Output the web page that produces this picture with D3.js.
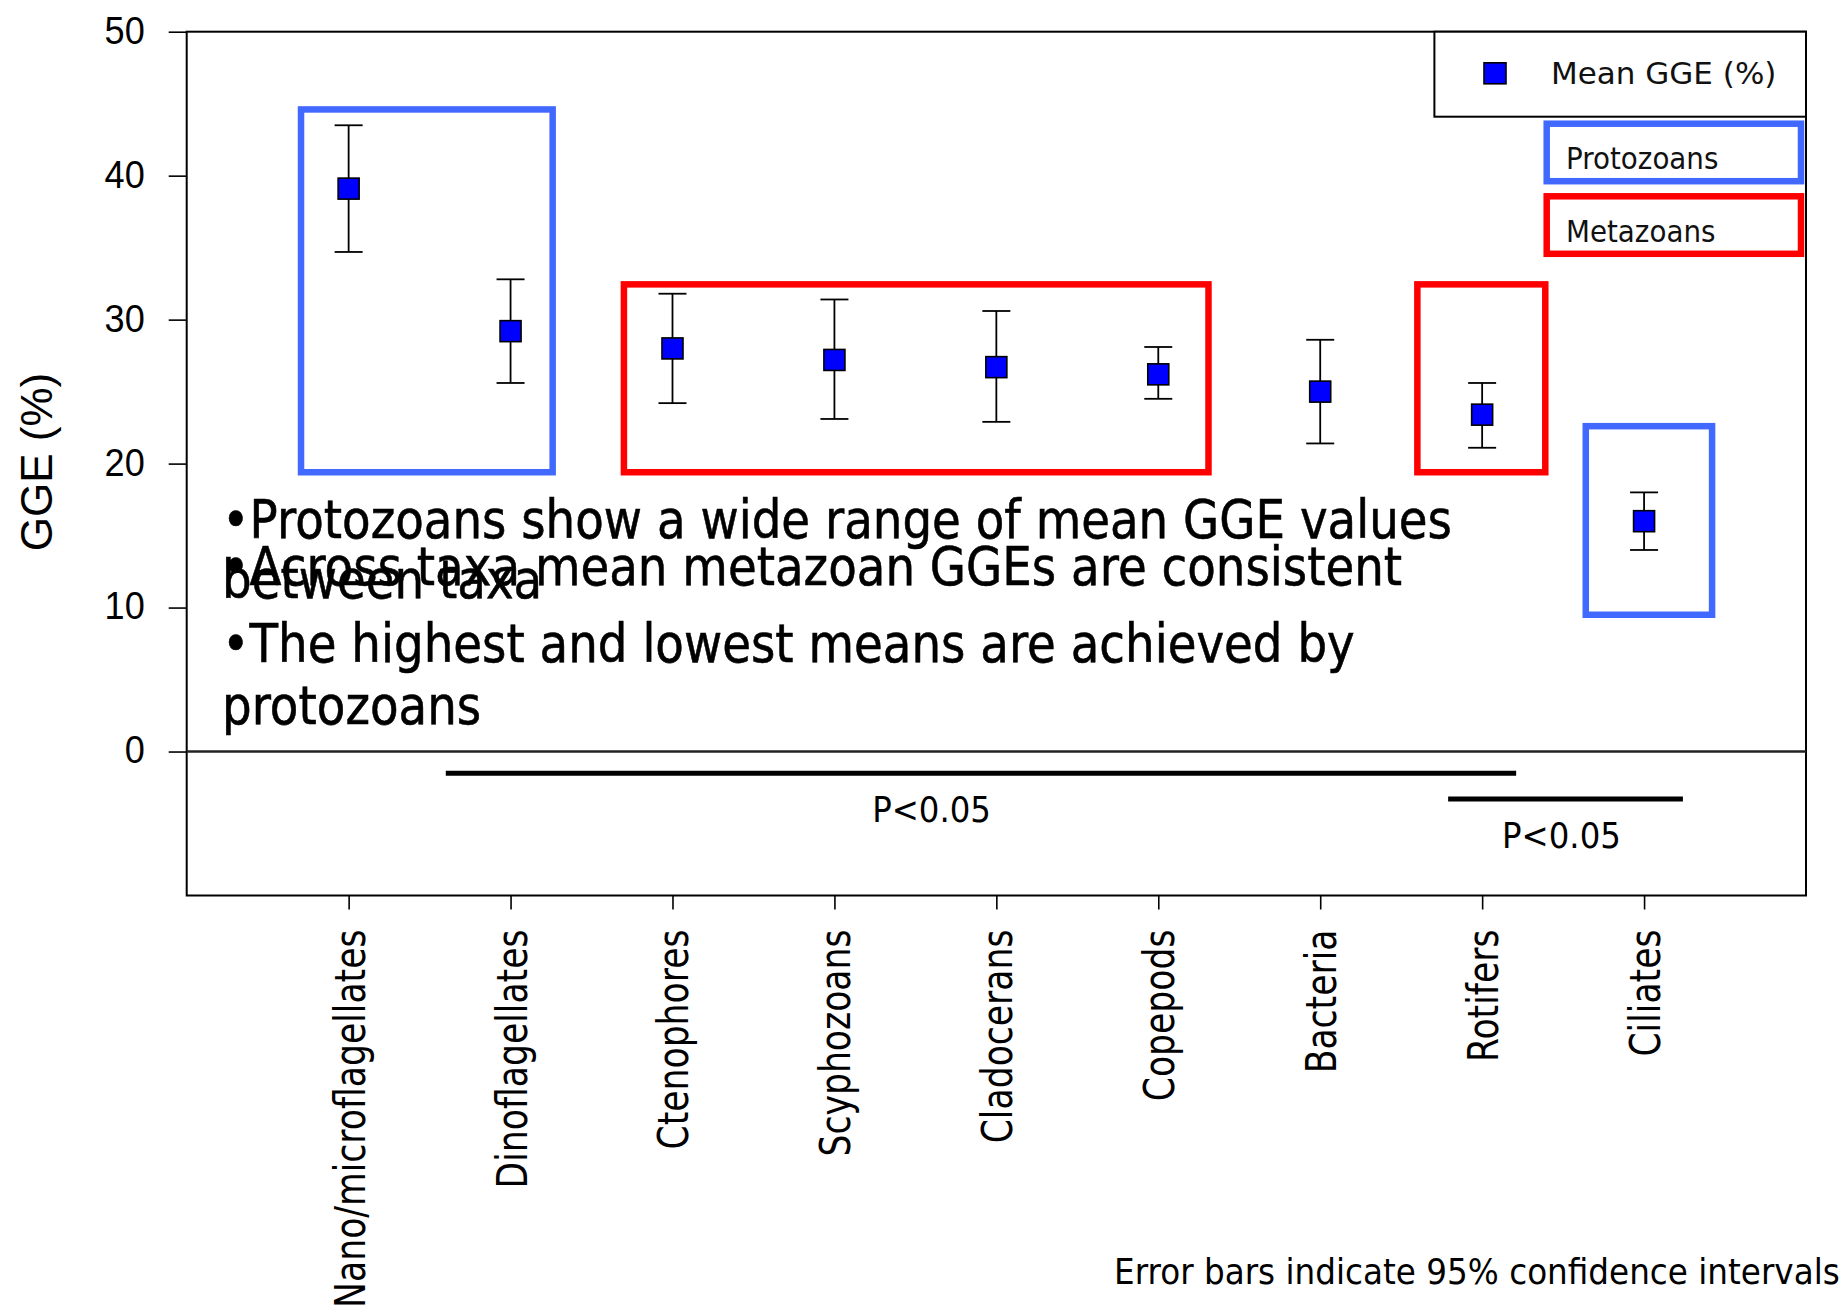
<!DOCTYPE html>
<html>
<head>
<meta charset="utf-8">
<script src="https://cdn.jsdelivr.net/npm/d3@7"></script>
<style>
  html, body { margin: 0; padding: 0; background: #fff; }
  svg { display: block; }
</style>
</head>
<body>
<svg id="chart" width="1843" height="1312"></svg>
<script>
// Taxa and their mean gross growth efficiency (%) with 95% confidence limits
const categories = ["Nano/microflagellates", "Dinoflagellates", "Ctenophores", "Scyphozoans",
                    "Cladocerans", "Copepods", "Bacteria", "Rotifers", "Ciliates"];
const meanGGE  = [39.1, 29.2, 28.0, 27.2, 26.7, 26.2, 25.0, 23.4, 16.0];
const ciLower  = [34.7, 25.6, 24.2, 23.1, 22.9, 24.5, 21.4, 21.1, 14.0];
const ciUpper  = [43.5, 32.8, 31.8, 31.4, 30.6, 28.1, 28.6, 25.6, 18.0];
const yTicks   = [0, 10, 20, 30, 40, 50];

// Grouping outlines: first/last taxon index, value range, group type
const groupFirst = [0, 2, 7, 8];
const groupLast  = [1, 5, 7, 8];
const groupLow   = [19.4, 19.4, 19.4, 9.5];
const groupHigh  = [44.6, 32.45, 32.45, 22.6];
const groupType  = ["Protozoans", "Metazoans", "Metazoans", "Protozoans"];

// Significance bars (taxon-index span, value level) and their labels
const sigFrom       = [0.6, 6.79];
const sigTo         = [7.21, 8.24];
const sigLevel      = [-1.5, -3.3];
const sigLabels     = ["P<0.05", "P<0.05"];
const sigLabelAt    = [3.6, 7.49];
const sigLabelLevel = [-4.9, -6.7];

const notes = [
  "•Protozoans show a wide range of mean GGE values",
  "between taxa",
  "•Across taxa mean metazoan GGEs are consistent",
  "•The highest and lowest means are achieved by",
  "protozoans"
];
const footnote = "Error bars indicate 95% confidence intervals";
const legendSeries = "Mean GGE (%)";
const groupTypes = ["Protozoans", "Metazoans"];

const groupColor = { Protozoans: "#4169ff", Metazoans: "#ff0000" };

const svg = d3.select("#chart");
svg.append("rect").attr("width", 1843).attr("height", 1312).attr("fill", "#fff");

const plotLeft = 186.7, plotRight = 1806, plotTop = 31.7, plotBottom = 895.5;

const x = d3.scalePoint().domain(categories).range([plotLeft, plotRight]).padding(1);
const y = d3.scaleLinear().domain([-10, 50]).range([plotBottom, plotTop]);
const xAt = i => x(categories[0]) + i * x.step();

const sans = "'DejaVu Sans', Verdana, sans-serif";
const arial = "'Liberation Sans', Arial, sans-serif";

// Plot frame
svg.append("rect")
  .attr("x", plotLeft).attr("y", plotTop)
  .attr("width", plotRight - plotLeft).attr("height", plotBottom - plotTop)
  .attr("fill", "none").attr("stroke", "#000").attr("stroke-width", 2);

// Zero reference line
svg.append("line")
  .attr("x1", plotLeft).attr("x2", plotRight)
  .attr("y1", y(0)).attr("y2", y(0))
  .attr("stroke", "#222").attr("stroke-width", 2.5);

// Y axis
const yAxis = svg.append("g")
  .attr("transform", `translate(${plotLeft},0)`)
  .call(d3.axisLeft(y).tickValues(yTicks).tickSize(18).tickSizeOuter(0));
yAxis.select(".domain").remove();
yAxis.selectAll(".tick line").attr("stroke", "#000").attr("stroke-width", 1.6);
yAxis.selectAll(".tick text")
  .attr("font-family", arial).attr("font-size", 38).attr("fill", "#000")
  .attr("x", -42 / 0.95).attr("dy", "0.30em")
  .attr("transform", "scale(0.95,1)");

// Y axis title
svg.append("text")
  .attr("transform", "translate(52,462) rotate(-90)")
  .attr("text-anchor", "middle")
  .attr("font-family", arial).attr("font-size", 44).attr("fill", "#000")
  .text("GGE (%)");

// X axis with vertical taxon names
const xAxis = svg.append("g")
  .attr("transform", `translate(0,${plotBottom})`)
  .call(d3.axisBottom(x).tickSize(14).tickSizeOuter(0));
xAxis.select(".domain").remove();
xAxis.selectAll(".tick line").attr("stroke", "#000").attr("stroke-width", 1.6);
xAxis.selectAll(".tick text")
  .attr("font-family", sans).attr("font-size", 43).attr("fill", "#000")
  .attr("x", 0).attr("y", 0).attr("dy", "0.36em")
  .attr("text-anchor", "end")
  .attr("transform", "translate(0,34) rotate(-90) scale(0.805,1)");

// Group outlines
const padL = [0.294, 0.30, 0.40, 0.36];
const padR = [0.26, 0.31, 0.39, 0.42];
svg.append("g").selectAll("rect")
  .data(groupFirst.map((f, i) => i))
  .join("rect")
  .attr("x", i => xAt(groupFirst[i] - padL[i]))
  .attr("y", i => y(groupHigh[i]))
  .attr("width", i => xAt(groupLast[i] + padR[i]) - xAt(groupFirst[i] - padL[i]))
  .attr("height", i => y(groupLow[i]) - y(groupHigh[i]))
  .attr("fill", "none")
  .attr("stroke", i => groupColor[groupType[i]])
  .attr("stroke-width", 6.5);

// Error bars and mean markers
const pts = categories.map((c, i) => ({ c, m: meanGGE[i], lo: ciLower[i], hi: ciUpper[i] }));
const capW = 14;
const eb = svg.append("g").attr("stroke", "#000").attr("stroke-width", 1.8);
eb.selectAll(".stem").data(pts).join("line").attr("class", "stem")
  .attr("x1", d => x(d.c)).attr("x2", d => x(d.c))
  .attr("y1", d => y(d.hi)).attr("y2", d => y(d.lo));
eb.selectAll(".capHi").data(pts).join("line").attr("class", "capHi")
  .attr("x1", d => x(d.c) - capW).attr("x2", d => x(d.c) + capW)
  .attr("y1", d => y(d.hi)).attr("y2", d => y(d.hi));
eb.selectAll(".capLo").data(pts).join("line").attr("class", "capLo")
  .attr("x1", d => x(d.c) - capW).attr("x2", d => x(d.c) + capW)
  .attr("y1", d => y(d.lo)).attr("y2", d => y(d.lo));

const sq = 21;
svg.append("g").selectAll("rect").data(pts).join("rect")
  .attr("x", d => x(d.c) - sq / 2).attr("y", d => y(d.m) - sq / 2)
  .attr("width", sq).attr("height", sq)
  .attr("fill", "#0000ff").attr("stroke", "#000").attr("stroke-width", 1.6);

// Summary notes inside the plot
const noteBaselines = [538, 598, 585, 662, 724];
const notesG = svg.append("g");
notes.forEach((t, i) => {
  notesG.append("text")
    .attr("transform", `translate(222,${noteBaselines[i]}) scale(0.882,1)`)
    .attr("font-family", sans).attr("font-size", 53).attr("fill", "#000")
    .attr("stroke", "#000").attr("stroke-width", 0.6)
    .text(t);
});

// Significance bars
sigFrom.forEach((f, i) => {
  svg.append("line")
    .attr("x1", xAt(f)).attr("x2", xAt(sigTo[i]))
    .attr("y1", y(sigLevel[i])).attr("y2", y(sigLevel[i]))
    .attr("stroke", "#000").attr("stroke-width", 5);
  svg.append("text")
    .attr("transform", `translate(${xAt(sigLabelAt[i])},${y(sigLabelLevel[i])}) scale(0.9,1)`)
    .attr("text-anchor", "middle")
    .attr("font-family", sans).attr("font-size", 36).attr("fill", "#000")
    .text(sigLabels[i]);
});

// Legend
const lg = svg.append("g");
lg.append("rect")
  .attr("x", 1434.4).attr("y", plotTop).attr("width", plotRight - 1434.4).attr("height", 116.7 - plotTop)
  .attr("fill", "#fff").attr("stroke", "#000").attr("stroke-width", 2);
lg.append("rect")
  .attr("x", 1495 - 11).attr("y", 73.3 - 10.5).attr("width", 22).attr("height", 21)
  .attr("fill", "#0000ff").attr("stroke", "#000").attr("stroke-width", 1.6);
lg.append("text")
  .attr("x", 1551).attr("y", 83.5)
  .attr("font-family", sans).attr("font-size", 31).attr("fill", "#111")
  .text(legendSeries);

const keyTop = [123.7, 196.3];
groupTypes.forEach((g, i) => {
  lg.append("rect")
    .attr("x", 1546.7).attr("y", keyTop[i]).attr("width", 1801 - 1546.7).attr("height", 57.5)
    .attr("fill", "#fff").attr("stroke", groupColor[g]).attr("stroke-width", 6.5);
  lg.append("text")
    .attr("transform", `translate(1566,${keyTop[i] + 45.6}) scale(0.895,1)`)
    .attr("font-family", sans).attr("font-size", 31).attr("fill", "#111")
    .text(g);
});

// Footnote
svg.append("text")
  .attr("transform", "translate(1114,1284) scale(0.907,1)")
  .attr("font-family", sans).attr("font-size", 36).attr("fill", "#000")
  .text(footnote);
</script>
</body>
</html>
